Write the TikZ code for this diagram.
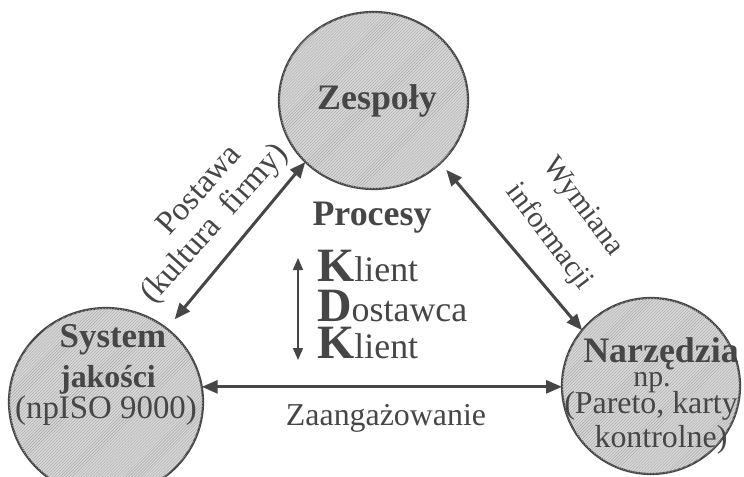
\documentclass[tikz,border=0pt]{standalone}
\usepackage{fontspec}
\setmainfont{Liberation Serif}
\usetikzlibrary{arrows.meta,shapes.geometric,patterns}

\definecolor{ink}{RGB}{70,70,70}
\definecolor{disc}{RGB}{216,216,216}

% big bold initial used in the K-D-K column
\newcommand\kdkinitial[1]{{\fontsize{48}{48}\selectfont\bfseries #1}}

\begin{document}
\begin{tikzpicture}[x=1bp,y=-1bp,
  blob/.style={ellipse, draw=ink, line width=2.2bp, inner sep=0pt, outer sep=0pt,
    fill=disc, postaction={pattern=north east lines, pattern color=gray!70}},
  bigarrow/.style={draw=ink, line width=3bp,
    {Triangle[length=16bp,width=13bp]}-{Triangle[length=16bp,width=13bp]}},
  smallarrow/.style={draw=ink, line width=1.6bp,
    {Triangle[length=12bp,width=10bp]}-{Triangle[length=12bp,width=10bp]}},
  title/.style={text=ink, inner sep=0pt, anchor=base, font=\fontsize{36}{40}\selectfont\bfseries},
  plain/.style={text=ink, inner sep=0pt, anchor=base, font=\fontsize{32}{36}\selectfont},
  kdk/.style={text=ink, inner sep=0pt, anchor=base west, font=\fontsize{36}{40}\selectfont},
  slantL/.style={text=ink, inner sep=0pt, rotate=48, font=\fontsize{33}{37}\selectfont},
  slantR/.style={text=ink, inner sep=0pt, rotate=-53, font=\fontsize{30}{36}\selectfont},
]
\useasboundingbox (0,0) rectangle (744,477);
\fill[white] (0,0) rectangle (744,477);
\clip (0,0) rectangle (744,477);

% the three discs
\node[blob, minimum width=189bp, minimum height=177bp] (zesp) at (373.5,100.5) {};
\node[blob, minimum width=194bp, minimum height=188bp] (sys)  at (106,402) {};
\node[blob, minimum width=178bp, minimum height=176bp] (narz) at (651,386) {};

% disc labels
\node[title] (tzesp) at (377,110) {Zespoły};

\node[title, font=\fontsize{35}{40}\selectfont\bfseries] (tsys1) at (113,347) {System};
\node[title, font=\fontsize{32}{36}\selectfont\bfseries] (tsys2) at (108,387) {jakości};
\node[plain, font=\fontsize{33}{36}\selectfont] (tsys3) at (106,418) {(npISO 9000)};

\node[title] (tnarz1) at (661,362) {Narzędzia};
\node[plain, font=\fontsize{30}{34}\selectfont] (tnarz2) at (652,386) {np.};
\node[plain] (tnarz3) at (651,413) {(Pareto, karty};
\node[plain] (tnarz4) at (661,447) {kontrolne)};

% centre column
\node[title] (proc) at (372,226) {Procesy};
\node[kdk] (k1) at (317,282) {\kdkinitial{K}lient};
\node[kdk] (d)  at (317,321) {\kdkinitial{D}ostawca};
\node[kdk] (k2) at (317,358) {\kdkinitial{K}lient};
\coordinate (vtop) at (298,258);
\coordinate (vbot) at (298,360);
\draw[smallarrow] (vtop) -- (vbot);

% connectors between the discs
\draw[bigarrow, shorten >=107.5bp] (zesp.222) -- (sys.center);
\draw[bigarrow, shorten <=9bp] (zesp.317) -- (narz.141);
\draw[bigarrow] (sys.9) -- (sys.9 -| narz.west);

% connector labels
\node[slantL] (postawa) at (198,189) {Postawa};
\node[slantL] (kultura) at (215,224) {(kultura\hspace{0.45em}firmy)};
\node[slantR] (wymiana) at (582,207) {Wymiana};
\node[slantR] (informacji) at (549,237) {informacji};
\node[plain] (zaang) at (386,425) {Zaangażowanie};
\end{tikzpicture}
\end{document}
